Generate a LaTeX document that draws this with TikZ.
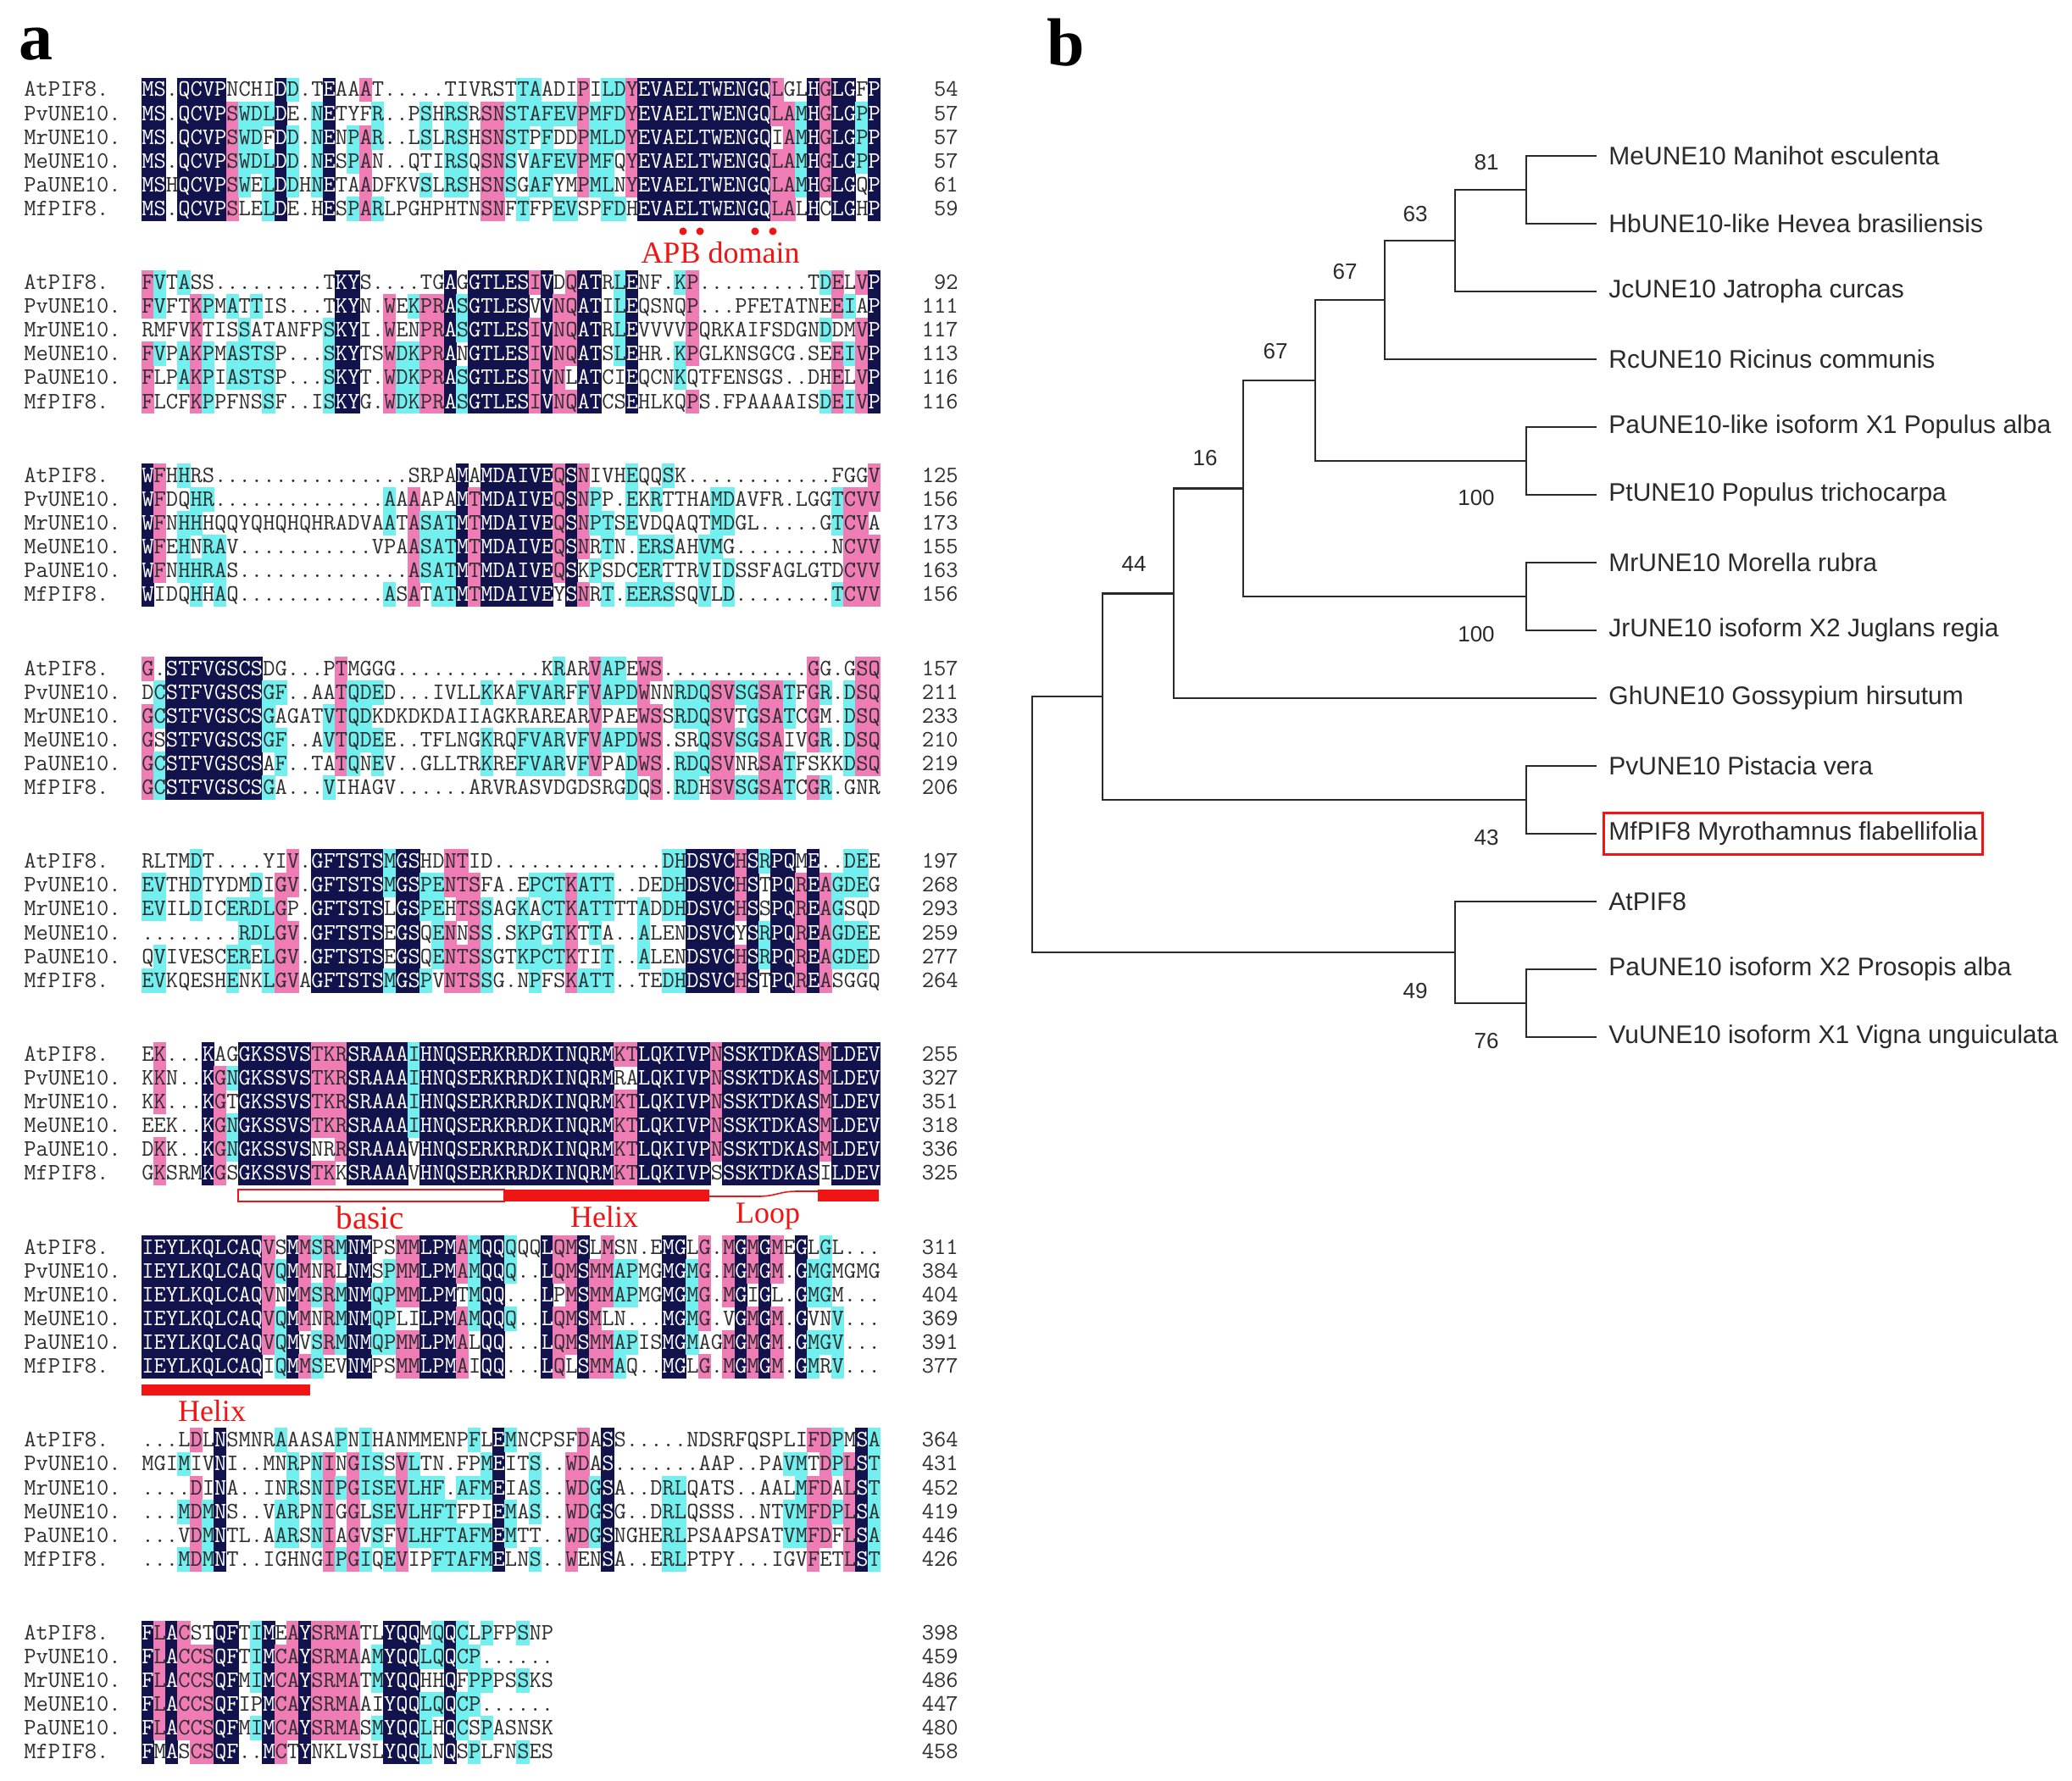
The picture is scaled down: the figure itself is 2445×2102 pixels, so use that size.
\documentclass[tikz,border=0pt]{standalone}
\usepackage{fontspec}
\usetikzlibrary{fit}
\newfontfamily\sansfam{Liberation Sans}
\newfontfamily\seriffam{Liberation Serif}
\definecolor{navyc}{HTML}{12124C}
\definecolor{pinkc}{HTML}{F07CB6}
\definecolor{cyanc}{HTML}{72F0F0}
\definecolor{seqgray}{HTML}{2E2E2E}
\definecolor{treegray}{HTML}{2A2A2A}
\definecolor{annred}{HTML}{F01414}
\newcommand\seqfont{\fontsize{13.87pt}{16pt}\selectfont\ttfamily}
\newcommand\leaffont{\fontsize{15pt}{18pt}\selectfont\sansfam}
\newcommand\bootfont{\fontsize{13pt}{15pt}\selectfont\sansfam}
\newcommand\annfont{\fontsize{18pt}{20pt}\selectfont\seriffam}
\newcommand\bigannfont{\fontsize{19.5pt}{22pt}\selectfont\seriffam}
\newcommand\panelfont{\fontsize{40pt}{44pt}\selectfont\seriffam\bfseries}
\newcommand\measurechar{\seqfont M}
\tikzset{
  seqtext/.style={anchor=base west, inner sep=0pt, font=\seqfont, text=seqgray},
  seqnum/.style={anchor=base east, inner sep=0pt, font=\seqfont, text=seqgray},
  leaf/.style={anchor=west, inner sep=0pt, font=\leaffont, text=treegray},
  boot/.style={inner sep=0pt, font=\bootfont, text=treegray},
  branch/.style={line width=1.3pt, draw=treegray},
  ann/.style={inner sep=0pt, font=\annfont, text=annred},
  bigann/.style={inner sep=0pt, font=\bigannfont, text=annred},
  panel/.style={inner sep=0pt, font=\panelfont, text=black}
}
\ExplSyntaxOn
\cs_generate_variant:Nn \str_item:Nn {c}
\cs_generate_variant:Nn \str_count:N {c}
\cs_generate_variant:Nn \str_set:Nn {ce}
\cs_generate_variant:Nn \tl_set:Nn {ce}
\cs_generate_variant:Nn \tl_put_right:Nn {ce}
\prg_generate_conditional_variant:Nnn \tl_if_eq:NN {Nc} {T,F,TF}
\seq_new:N \l__aln_rows_seq
\seq_new:N \l__aln_nums_seq
\seq_new:N \l__aln_names_seq
\seq_set_from_clist:Nn \l__aln_names_seq {AtPIF8.,PvUNE10.,MrUNE10.,MeUNE10.,PaUNE10.,MfPIF8.}
\int_new:N \l__aln_len_int
\int_new:N \l__aln_cnt_int
\tl_new:N \l__aln_me_tl
\tl_new:N \l__aln_x_tl
\tl_new:N \l__aln_y_tl
\tl_new:N \l__aln_xx_tl
\tl_new:N \l__aln_yy_tl
\tl_new:N \l__aln_base_tl
\tl_new:N \l__aln_r_tl
\tl_new:N \l__aln_c_tl
\tl_new:N \l__aln_s_tl
\box_new:N \l__aln_box
\fp_new:N \g__aln_cw_fp
\tl_const:Nn \c__aln_dot_tl {.}
\fp_const:Nn \c__aln_rh_fp {28.07}
\fp_const:Nn \c__aln_x_fp {167}
\AtBeginDocument
 {
  \hbox_set:Nn \l__aln_box { \measurechar }
  \fp_gset:Nn \g__aln_cw_fp { 2 * \dim_to_fp:n { \box_wd:N \l__aln_box } }
  \fp_compare:nNnT \g__aln_cw_fp < {1} { \fp_gset:Nn \g__aln_cw_fp {14.264} }
 }
\int_step_inline:nn {6}
 {
  \str_new:c { l__aln_row_#1_str }
  \tl_new:c { l__aln_text_#1_tl }
  \tl_new:c { l__aln_ch_#1_tl }
 }
\cs_new_protected:Npn \__aln_cell:nnn #1#2#3
 {
  \tl_set:Ne \l__aln_x_tl { \fp_eval:n { \c__aln_x_fp + (#2 - 1) * \g__aln_cw_fp - 0.4 } }
  \tl_set:Ne \l__aln_xx_tl { \fp_eval:n { \c__aln_x_fp + (#2) * \g__aln_cw_fp + 0.4 } }
  \tl_set:Ne \l__aln_y_tl { \fp_eval:n { \l__aln_base_tl + (#3 - 1.5) * \c__aln_rh_fp - 0.4 } }
  \tl_set:Ne \l__aln_yy_tl { \fp_eval:n { \l__aln_base_tl + (#3 - 0.5) * \c__aln_rh_fp + 0.4 } }
  \fill[#1](\l__aln_x_tl,\l__aln_y_tl)rectangle(\l__aln_xx_tl,\l__aln_yy_tl);
 }
\NewDocumentCommand \alnblock { m m m m }
 {
  \tl_set:Nn \l__aln_base_tl {#2}
  \seq_set_from_clist:Nn \l__aln_rows_seq {#3}
  \seq_set_from_clist:Nn \l__aln_nums_seq {#4}
  \int_step_variable:nNn {6} \l__aln_r_tl
   {
    \str_set:ce { l__aln_row_ \l__aln_r_tl _str } { \seq_item:Nn \l__aln_rows_seq { \l__aln_r_tl } }
    \tl_clear:c { l__aln_text_ \l__aln_r_tl _tl }
   }
  \int_set:Nn \l__aln_len_int { \str_count:c { l__aln_row_1_str } }
  \int_step_variable:nNn { \l__aln_len_int } \l__aln_c_tl
   {
    \int_step_variable:nNn {6} \l__aln_r_tl
     {
      \tl_set:ce { l__aln_ch_ \l__aln_r_tl _tl }
       { \str_item:cn { l__aln_row_ \l__aln_r_tl _str } { \l__aln_c_tl } }
     }
    \int_step_variable:nNn {6} \l__aln_r_tl
     {
      \tl_set_eq:Nc \l__aln_me_tl { l__aln_ch_ \l__aln_r_tl _tl }
      \int_zero:N \l__aln_cnt_int
      \tl_if_eq:NNF \l__aln_me_tl \c__aln_dot_tl
       {
        \tl_if_empty:NF \l__aln_me_tl
         {
          \int_step_variable:nNn {6} \l__aln_s_tl
           {
            \tl_if_eq:NcT \l__aln_me_tl { l__aln_ch_ \l__aln_s_tl _tl }
             { \int_incr:N \l__aln_cnt_int }
           }
         }
       }
      \int_compare:nNnTF \l__aln_cnt_int = 6
       {
        \__aln_cell:nnn {navyc} { \l__aln_c_tl } { \l__aln_r_tl }
        \tl_put_right:ce { l__aln_text_ \l__aln_r_tl _tl }
         { \exp_not:N \textcolor {white} { \l__aln_me_tl } }
       }
       {
        \int_compare:nNnTF \l__aln_cnt_int = 5
         { \__aln_cell:nnn {pinkc} { \l__aln_c_tl } { \l__aln_r_tl } }
         {
          \int_compare:nNnT \l__aln_cnt_int > 2
           { \__aln_cell:nnn {cyanc} { \l__aln_c_tl } { \l__aln_r_tl } }
         }
        \tl_put_right:ce { l__aln_text_ \l__aln_r_tl _tl } { \l__aln_me_tl }
       }
     }
   }
  \int_step_variable:nNn {6} \l__aln_r_tl
   {
    \tl_set:Ne \l__aln_y_tl { \fp_eval:n { \l__aln_base_tl + (\l__aln_r_tl - 1) * \c__aln_rh_fp + 8 } }
    \use:e
     {
      \exp_not:N \node [seqtext] (s#1r\l__aln_r_tl) at (\fp_use:N \c__aln_x_fp, \l__aln_y_tl)
       { \exp_not:v { l__aln_text_ \l__aln_r_tl _tl } } ;
      \exp_not:N \node [seqtext] (n#1r\l__aln_r_tl) at (28, \l__aln_y_tl)
       { \seq_item:Nn \l__aln_names_seq { \l__aln_r_tl } } ;
      \exp_not:N \node [seqnum] (c#1r\l__aln_r_tl) at (1131, \l__aln_y_tl)
       { \seq_item:Nn \l__aln_nums_seq { \l__aln_r_tl } } ;
     }
   }
 }
\ExplSyntaxOff
\begin{document}
\begin{tikzpicture}[x=0.5pt,y=-0.5pt]
\fill[white] (0,0) rectangle (2445,2102);
\useasboundingbox (0,0) rectangle (2445,2102);
\node[panel] (pa) at (42,52) {a};
\node[panel] (pb) at (1258,50) {b};

\alnblock{1}{106}{
MS.QCVPNCHIDD.TEAAAT.....TIVRSTTAADIPILDYEVAELTWENGQLGLHGLGFP,
MS.QCVPSWDLDE.NETYFR..PSHRSRSNSTAFEVPMFDYEVAELTWENGQLAMHGLGPP,
MS.QCVPSWDFDD.NENPAR..LSLRSHSNSTPFDDPMLDYEVAELTWENGQIAMHGLGPP,
MS.QCVPSWDLDD.NESPAN..QTIRSQSNSVAFEVPMFQYEVAELTWENGQLAMHGLGPP,
MSHQCVPSWELDDHNETAADFKVSLRSHSNSGAFYMPMLNYEVAELTWENGQLAMHGLGQP,
MS.QCVPSLELDE.HESPARLPGHPHTNSNFTFPEVSPFDHEVAELTWENGQLALHCLGHP}{54,57,57,57,61,59}

\alnblock{2}{333.7}{
FVTASS.........TKYS....TGAGGTLESIVDQATRLENF.KP.........TDELVP,
FVFTKPMATTIS...TKYN.WEKPRASGTLESVVNQATILEQSNQP...PFETATNEEIAP,
RMFVKTISSATANFPSKYI.WENPRASGTLESIVNQATRLEVVVVPQRKAIFSDGNDDMVP,
FVPAKPMASTSP...SKYTSWDKPRANGTLESIVNQATSLEHR.KPGLKNSGCG.SEEIVP,
FLPAKPIASTSP...SKYT.WDKPRASGTLESIVNLATCIEQCNKQTFENSGS..DHELVP,
FLCFKPPFNSSF..ISKYG.WDKPRASGTLESIVNQATCSEHLKQPS.FPAAAAISDEIVP}{92,111,117,113,116,116}

\alnblock{3}{561.4}{
WFHHRS................SRPAMAMDAIVEQSNIVHEQQSK............FGGV,
WFDQHR..............AAAAPAMTMDAIVEQSNPP.EKRTTHAMDAVFR.LGGTCVV,
WFNHHHQQYQHQHQHRADVAATASATMTMDAIVEQSNPTSEVDQAQTMDGL.....GTCVA,
WFEHNRAV...........VPAASATMTMDAIVEQSNRTN.ERSAHVMG........NCVV,
WFNHHRAS..............ASATMTMDAIVEQSKPSDCERTTRVIDSSFAGLGTDCVV,
WIDQHHAQ............ASATATMTMDAIVEYSNRT.EERSSQVLD........TCVV}{125,156,173,155,163,156}

\alnblock{4}{789.1}{
G.STFVGSCSDG...PTMGGG............KRARVAPEWS............GG.GSQ,
DCSTFVGSCSGF..AATQDED...IVLLKKAFVARFFVAPDWNNRDQSVSGSATFGR.DSQ,
GCSTFVGSCSGAGATVTQDKDKDKDAIIAGKRAREARVPAEWSSRDQSVTGSATCGM.DSQ,
GSSTFVGSCSGF..AVTQDEE..TFLNGKRQFVARVFVAPDWS.SRQSVSGSAIVGR.DSQ,
GCSTFVGSCSAF..TATQNEV..GLLTRKREFVARVFVPADWS.RDQSVNRSATFSKKDSQ,
GCSTFVGSCSGA...VIHAGV......ARVRASVDGDSRGDQS.RDHSVSGSATCGR.GNR}{157,211,233,210,219,206}

\alnblock{5}{1016.8}{
RLTMDT....YIV.GFTSTSMGSHDNTID..............DHDSVCHSRPQME..DEE,
EVTHDTYDMDIGV.GFTSTSMGSPENTSFA.EPCTKATT..DEDHDSVCHSTPQREAGDEG,
EVILDICERDLGP.GFTSTSLGSPEHTSSAGKACTKATTTTADDHDSVCHSSPQREAGSQD,
........RDLGV.GFTSTSEGSQENNSS.SKPGTKTTA..ALENDSVCYSRPQREAGDEE,
QVIVESCERELGV.GFTSTSEGSQENTSSGTKPCTKTIT..ALENDSVCHSRPQREAGDED,
EVKQESHENKLGVAGFTSTSMGSPVNTSSG.NPFSKATT..TEDHDSVCHSTPQREASGGQ}{197,268,293,259,277,264}

\alnblock{6}{1244.5}{
EK...KAGGKSSVSTKRSRAAAIHNQSERKRRDKINQRMKTLQKIVPNSSKTDKASMLDEV,
KKN..KGNGKSSVSTKRSRAAAIHNQSERKRRDKINQRMRALQKIVPNSSKTDKASMLDEV,
KK...KGTGKSSVSTKRSRAAAIHNQSERKRRDKINQRMKTLQKIVPNSSKTDKASMLDEV,
EEK..KGNGKSSVSTKRSRAAAIHNQSERKRRDKINQRMKTLQKIVPNSSKTDKASMLDEV,
DKK..KGNGKSSVSNRRSRAAAVHNQSERKRRDKINQRMKTLQKIVPNSSKTDKASMLDEV,
GKSRMKGSGKSSVSTKKSRAAAVHNQSERKRRDKINQRMKTLQKIVPSSSKTDKASILDEV}{255,327,351,318,336,325}

\alnblock{7}{1472.2}{
IEYLKQLCAQVSMMSRMNMPSMMLPMAMQQQQQLQMSLMSN.EMGLG.MGMGMEGLGL...,
IEYLKQLCAQVQMMNRLNMSPMMLPMAMQQQ..LQMSMMAPMGMGMG.MGMGM.GMGMGMG,
IEYLKQLCAQVNMMSRMNMQPMMLPMTMQQ...LPMSMMAPMGMGMG.MGIGL.GMGM...,
IEYLKQLCAQVQMMNRMNMQPLILPMAMQQQ..LQMSMLN...MGMG.VGMGM.GVNV...,
IEYLKQLCAQVQMVSRMNMQPMMLPMALQQ...LQMSMMAPISMGMAGMGMGM.GMGV...,
IEYLKQLCAQIQMMSEVNMPSMMLPMAIQQ...LQLSMMAQ..MGLG.MGMGM.GMRV...}{311,384,404,369,391,377}

\alnblock{8}{1699.9}{
...LDLNSMNRAAASAPNIHANMMENPFLEMNCPSFDASS.....NDSRFQSPLIFDPMSA,
MGIMIVNI..MNRPNINGISSVLTN.FPMEITS..WDAS.......AAP..PAVMTDPLST,
....DINA..INRSNIPGISEVLHF.AFMEIAS..WDGSA..DRLQATS..AALMFDALST,
...MDMNS..VARPNIGGLSEVLHFTFPIEMAS..WDGSG..DRLQSSS..NTVMFDPLSA,
...VDMNTL.AARSNIAGVSFVLHFTAFMEMTT..WDGSNGHERLPSAAPSATVMFDFLSA,
...MDMNT..IGHNGIPGIQEVIPFTAFMELNS..WENSA..ERLPTPY...IGVFETLST}{364,431,452,419,446,426}

\alnblock{9}{1927.6}{
FLACSTQFTIMEAYSRMATLYQQMQQCLPFPSNP,
FLACCSQFTIMCAYSRMAAMYQQLQQCP......,
FLACCSQFMIMCAYSRMATMYQQHHQFPPPSSKS,
FLACCSQFIPMCAYSRMAAIYQQLQQCP......,
FLACCSQFMIMCAYSRMASMYQQLHQCSPASNSK,
FMASCSQF..MCTYNKLVSLYQQLNQSPLFNSES}{398,459,486,447,480,458}

% annotations
\fill[annred] (806,273) circle (4.5);
\fill[annred] (826,273) circle (4.5);
\fill[annred] (891,273) circle (4.5);
\fill[annred] (912,273) circle (4.5);
\node[ann] (apb) at (850,298) {APB domain};

\filldraw[fill=white, draw=annred, line width=1pt] (281,1404) rectangle (595,1418);
\fill[annred] (595,1404) rectangle (837,1418);
\fill[annred] (965,1404) rectangle (1037,1418);
\draw[annred, line width=0.8pt] (837,1412) -- (895,1412) .. controls (915,1412) and (920,1406) .. (940,1406) -- (965,1406);
\node[bigann] (basic) at (437,1437) {basic};
\node[ann] (helix1) at (713,1436) {Helix};
\node[ann] (loop) at (906,1436) {Loop};
\fill[annred] (167,1634) rectangle (366,1647);
\node[ann] (helix2) at (250,1665) {Helix};

% tree
\foreach \nm/\yy in {Me/184,Hb/264,Jc/344,Rc/424,PaL/504,Pt/584,Mr/664,Jr/744,Gh/824,Pv/904,Mf/984,At/1064,PaX/1144,Vu/1224}
  {\coordinate (t\nm) at (1884,\yy);}
\node[leaf] (lMe) at (1898,184) {MeUNE10 Manihot esculenta};
\node[leaf] (lHb) at (1898,264) {HbUNE10-like Hevea brasiliensis};
\node[leaf] (lJc) at (1898,344) {JcUNE10 Jatropha curcas};
\node[leaf] (lRc) at (1898,424) {RcUNE10 Ricinus communis};
\node[leaf] (lPaL) at (1898,504) {PaUNE10-like isoform X1 Populus alba};
\node[leaf] (lPt) at (1898,584) {PtUNE10 Populus trichocarpa};
\node[leaf] (lMr) at (1898,664) {MrUNE10 Morella rubra};
\node[leaf] (lJr) at (1898,744) {JrUNE10 isoform X2 Juglans regia};
\node[leaf] (lGh) at (1898,824) {GhUNE10 Gossypium hirsutum};
\node[leaf] (lPv) at (1898,904) {PvUNE10 Pistacia vera};
\node[leaf] (lMf) at (1898,984) {MfPIF8 Myrothamnus flabellifolia};
\node[leaf] (lAt) at (1898,1064) {AtPIF8};
\node[leaf] (lPaX) at (1898,1144) {PaUNE10 isoform X2 Prosopis alba};
\node[leaf] (lVu) at (1898,1224) {VuUNE10 isoform X1 Vigna unguiculata};
\node[draw=annred, line width=1.5pt, fit=(lMf), inner xsep=3pt, inner ysep=5pt] (mfbox) {};

\coordinate (n1) at (1801,224);
\coordinate (n2) at (1717,284);
\coordinate (n3) at (1634,354);
\coordinate (n4) at (1801,544);
\coordinate (n5) at (1552,449);
\coordinate (n6) at (1801,704);
\coordinate (n7) at (1467,576.5);
\coordinate (n8) at (1385,700.25);
\coordinate (n9) at (1801,944);
\coordinate (n10) at (1301,822.1);
\coordinate (n11) at (1801,1184);
\coordinate (n12) at (1717,1124);
\coordinate (root) at (1218,973);

\draw[branch] (n1) |- (tMe) (n1) |- (tHb);
\draw[branch] (n2) |- (n1) (n2) |- (tJc);
\draw[branch] (n3) |- (n2) (n3) |- (tRc);
\draw[branch] (n4) |- (tPaL) (n4) |- (tPt);
\draw[branch] (n5) |- (n3) (n5) |- (n4);
\draw[branch] (n6) |- (tMr) (n6) |- (tJr);
\draw[branch] (n7) |- (n5) (n7) |- (n6);
\draw[branch] (n8) |- (n7) (n8) |- (tGh);
\draw[branch] (n9) |- (tPv) (n9) |- (tMf);
\draw[branch] (n10) |- (n8) (n10) |- (n9);
\draw[branch] (n11) |- (tPaX) (n11) |- (tVu);
\draw[branch] (n12) |- (tAt) (n12) |- (n11);
\draw[branch] (root) |- (n10) (root) |- (n12);

\node[boot] (b81) at (1754,192) {81};
\node[boot] (b63) at (1670,253) {63};
\node[boot] (b67a) at (1587,321) {67};
\node[boot] (b67b) at (1505,415) {67};
\node[boot] (b16) at (1422,541) {16};
\node[boot] (b44) at (1338,666) {44};
\node[boot] (b100a) at (1742,588) {100};
\node[boot] (b100b) at (1742,749) {100};
\node[boot] (b43) at (1754,989) {43};
\node[boot] (b49) at (1670,1170) {49};
\node[boot] (b76) at (1754,1229) {76};
\end{tikzpicture}
\end{document}
